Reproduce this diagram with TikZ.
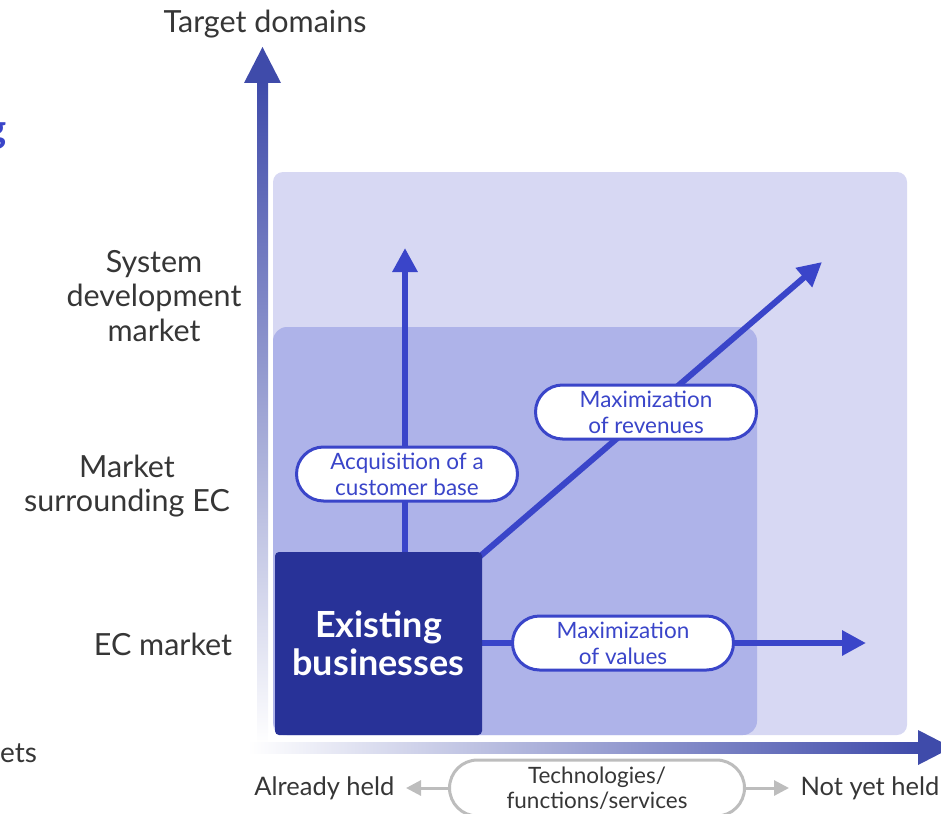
\documentclass[tikz,border=0pt]{standalone}
\usepackage{fontspec}
\setmainfont{Lato}
\usetikzlibrary{arrows.meta, positioning, shapes.misc}
\definecolor{tgtpale}{HTML}{D7D8F3}
\definecolor{tgtmid}{HTML}{AEB3E9}
\definecolor{tgtdark}{HTML}{283298}
\definecolor{tgtblue}{HTML}{3A45C9}
\definecolor{tgtaxis}{HTML}{3F4BAA}
\definecolor{tgttext}{HTML}{363636}
\definecolor{tgtgray}{HTML}{BDBDBD}

\begin{document}
\begin{tikzpicture}[x=1pt, y=-1pt,
  every node/.style={text=tgttext, font=\fontsize{30.5}{34.5}\selectfont, align=center},
  bubble/.style={rounded rectangle, draw=tgtblue, line width=3pt, fill=white, text=tgtblue,
    font=\fontsize{22.5}{26}\selectfont, minimum width=221pt, minimum height=54pt, inner sep=0pt},
  growth/.style={draw=tgtblue, line width=6pt, -{Triangle[width=24pt,length=24pt]}},
  held/.style={draw=tgtgray, line width=3pt, -{Triangle[width=15pt,length=15pt]}},
  axislabel/.style={font=\fontsize{25.5}{30}\selectfont}]
  \useasboundingbox (0,0) rectangle (941,813);
  % domains
  \fill[tgtpale, rounded corners=10pt] (273,172) rectangle (907,735);
  \fill[tgtmid, rounded corners=14pt] (273,327) rectangle (757,735);
  % axes
  \shade[top color=tgtaxis, bottom color=white] (257,82) rectangle (268,745);
  \fill[tgtaxis] (244,83) -- (262.5,47) -- (281,83) -- cycle;
  \shade[left color=white, right color=tgtaxis] (248,742) rectangle (919,753);
  \fill[tgtaxis] (918,730) -- (952,747.5) -- (918,765) -- cycle;
  % growth directions
  \coordinate (upTip) at (405,248);
  \coordinate (diagTip) at (822,262);
  \coordinate (sideTip) at (866,643);
  \coordinate (diagStart) at (478,558);
  \draw[growth] (405,600) -- (upTip);
  \draw[growth] (diagStart) -- (diagTip);
  \draw[growth] (420,643) -- (sideTip);
  \node[fill=tgtdark, rounded corners=4pt, minimum width=207pt, minimum height=183pt, text=white,
    font=\fontsize{36}{37.5}\selectfont\bfseries] (exist) at (378.5,643.5) {Existing\\businesses};
  \node[bubble] (acq) at (407,474) {Acquisition of a\\customer base};
  \node[bubble] (rev) at (646,412) {Maximization\\of revenues};
  \node[bubble] (val) at (623,643) {Maximization\\of values};
  % labels
  \node (tgt) at (265,24) {Target domains};
  \node (sys) at (154,296) {System\\development\\market};
  \node (sur) at (127,486) {Market\\surrounding EC};
  \node (ecm) at (163,644) {EC market};
  \node[anchor=base west, inner sep=0pt, font=\fontsize{28}{30}\selectfont] (mkt) at (0,762) {ets};
  \node[anchor=east, inner sep=0pt, text=tgtblue, font=\fontsize{40}{40}\selectfont\bfseries] (ttl) at (7,136) {g};
  % technologies
  \node[rounded rectangle, draw=tgtgray, line width=3pt, fill=white, minimum width=295pt,
    minimum height=56pt, inner sep=0pt, font=\fontsize{22.5}{25}\selectfont] (tech) at (597,788) {Technologies/\\functions/services};
  \node[anchor=east, axislabel] (have) at (398,788) {Already held};
  \node[anchor=west, axislabel] (nothave) at (797,788) {Not yet held};
  \draw[held] (tech.west) -- ([xshift=8pt]have.east);
  \draw[held] (tech.east) -- ([xshift=-8pt]nothave.west);
\end{tikzpicture}
\end{document}
